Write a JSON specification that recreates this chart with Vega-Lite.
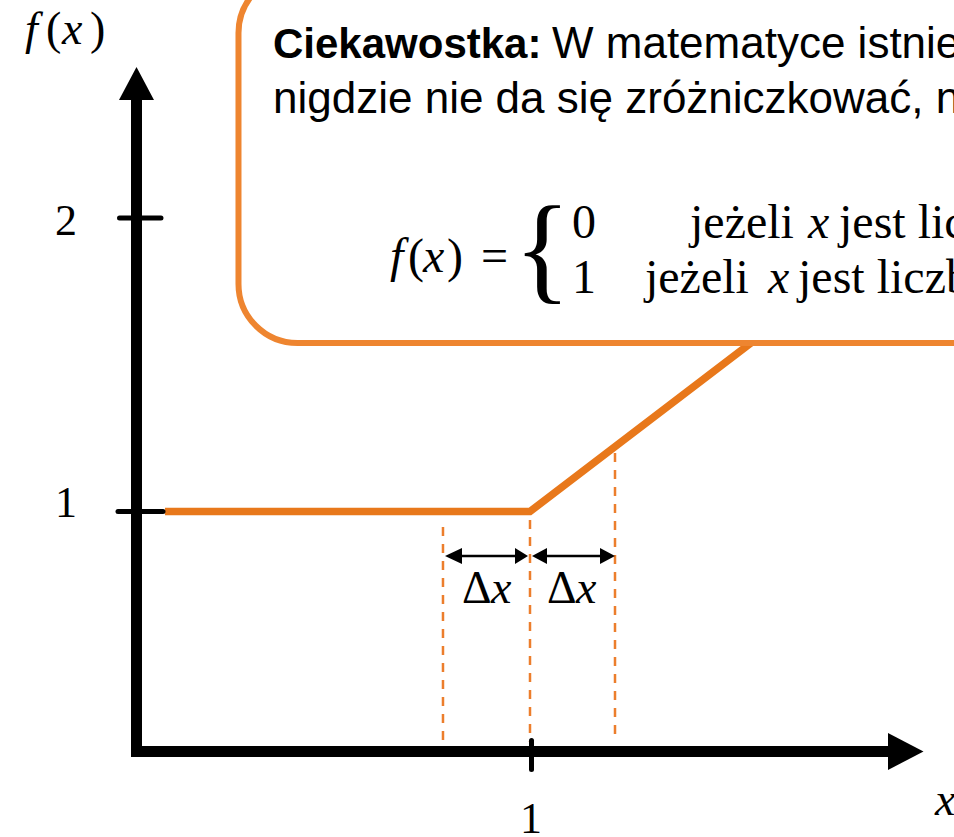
{
  "$schema": "https://vega.github.io/schema/vega-lite/v6.json",
  "width": 954,
  "height": 837,
  "autosize": {"type": "none"},
  "padding": 0,
  "background": "white",
  "config": {"view": {"stroke": null}},
  "datasets": {
    "curve": [{"x": 0.0722, "y": 1}, {"x": 0.9962, "y": 1}, {"x": 1.6317, "y": 1.6525}],
    "box": [{"x": 0.2582, "x2": 2.4392, "y": 2.8314, "y2": 1.5741}],
    "dashed": [
      {"x": 0.7759, "y": 0.9472, "y2": 0.2147},
      {"x": 0.9962, "y": 0.971, "y2": 0.2147},
      {"x": 1.2114, "y": 1.1993, "y2": 0.2147}
    ],
    "axes": [
      {"x": 0, "x2": 0, "y": 0.1823, "y2": 2.41},
      {"x": 0, "x2": 1.9025, "y": 0.1823, "y2": 0.1823}
    ],
    "ticks": [
      {"x": -0.0468, "x2": 0.0671, "y": 1, "y2": 1},
      {"x": -0.043, "x2": 0.062, "y": 2, "y2": 2},
      {"x": 1, "x2": 1, "y": 0.2198, "y2": 0.121}
    ],
    "yArrow": [
      {"x": -0.0443, "y": 2.402, "y2": 2.402},
      {"x": 0, "y": 2.5145, "y2": 2.402},
      {"x": 0.0443, "y": 2.402, "y2": 2.402}
    ],
    "xArrow": [
      {"y": 0.2453, "x": 1.9025, "x2": 1.9025},
      {"y": 0.1823, "x": 1.9924, "x2": 1.9025},
      {"y": 0.1193, "x": 1.9025, "x2": 1.9025}
    ],
    "smallHeads": [
      {"id": "a", "y": 0.8756, "x": 0.8241, "x2": 0.8241},
      {"id": "a", "y": 0.8484, "x": 0.781, "x2": 0.8241},
      {"id": "a", "y": 0.8211, "x": 0.8241, "x2": 0.8241},
      {"id": "b", "y": 0.8756, "x": 0.9582, "x2": 0.9582},
      {"id": "b", "y": 0.8484, "x": 0.9911, "x2": 0.9582},
      {"id": "b", "y": 0.8211, "x": 0.9582, "x2": 0.9582},
      {"id": "c", "y": 0.8756, "x": 1.0392, "x2": 1.0392},
      {"id": "c", "y": 0.8484, "x": 1.0013, "x2": 1.0392},
      {"id": "c", "y": 0.8211, "x": 1.0392, "x2": 1.0392},
      {"id": "d", "y": 0.8756, "x": 1.1734, "x2": 1.1734},
      {"id": "d", "y": 0.8484, "x": 1.2114, "x2": 1.1734},
      {"id": "d", "y": 0.8211, "x": 1.1734, "x2": 1.1734}
    ],
    "shafts": [
      {"x": 0.8, "x2": 0.97, "y": 0.8484, "y2": 0.8484},
      {"x": 1.02, "x2": 1.19, "y": 0.8484, "y2": 0.8484}
    ],
    "sansBold": [{"x": 0.3456, "y": 2.5451, "t": "Ciekawostka:"}],
    "sansReg": [
      {"x": 1.0519, "y": 2.5451, "t": "W matematyce istnieją funkcje, których"},
      {"x": 0.3456, "y": 2.3578, "t": "nigdzie nie da się zróżniczkować, np. funkcja Dirichleta:"}
    ],
    "formulaReg": [
      {"x": 0.6873, "y": 1.816, "t": "("},
      {"x": 0.7861, "y": 1.816, "t": ")"},
      {"x": 0.8722, "y": 1.816, "t": "="},
      {"x": 1.1025, "y": 1.9319, "t": "0"},
      {"x": 1.1025, "y": 1.7445, "t": "1"},
      {"x": 1.4013, "y": 1.9319, "t": "jeżeli"},
      {"x": 1.7785, "y": 1.9319, "t": "jest liczbą niewymierną"},
      {"x": 1.2873, "y": 1.7445, "t": "jeżeli"},
      {"x": 1.6747, "y": 1.7445, "t": "jest liczbą wymierną"}
    ],
    "formulaIt": [
      {"x": 0.6418, "y": 1.816, "t": "f"},
      {"x": 0.7253, "y": 1.816, "t": "x"},
      {"x": 1.7, "y": 1.9319, "t": "x"},
      {"x": 1.5987, "y": 1.7445, "t": "x"}
    ],
    "brace": [{"x": 0.9557, "y": 1.8808, "t": "{"}],
    "fxReg": [
      {"x": -0.2291, "y": 2.5928, "t": "("},
      {"x": -0.1177, "y": 2.5928, "t": ")"}
    ],
    "fxIt": [
      {"x": -0.2823, "y": 2.5928, "t": "f"},
      {"x": -0.1886, "y": 2.5928, "t": "x"}
    ],
    "tickLabels": [
      {"x": -0.1785, "y": 1.9421, "t": "2"},
      {"x": -0.1785, "y": 0.9813, "t": "1"},
      {"x": 0.9987, "y": -0.0954, "t": "1"}
    ],
    "smallIt": [
      {"x": 2.0215, "y": -0.0341, "t": "x"},
      {"x": 0.8975, "y": 0.6883, "t": "x"},
      {"x": 1.1127, "y": 0.6883, "t": "x"}
    ],
    "smallReg": [
      {"x": 0.8241, "y": 0.6883, "t": "Δ"},
      {"x": 1.0392, "y": 0.6883, "t": "Δ"}
    ]
  },
  "encoding": {
    "x": {"field": "x", "type": "quantitative", "scale": {"domain": [-0.34557, 2.06962], "nice": false, "zero": false}, "axis": null},
    "y": {"field": "y", "type": "quantitative", "scale": {"domain": [-0.10903, 2.74276], "nice": false, "zero": false}, "axis": null}
  },
  "layer": [
    {
      "data": {"name": "curve"},
      "mark": {"type": "line", "color": "#E8781B", "strokeWidth": 7.5, "strokeCap": "butt", "strokeJoin": "miter"},
      "encoding": {}
    },
    {
      "data": {"name": "box"},
      "mark": {"type": "rect", "fill": "white", "stroke": "#EE8530", "strokeWidth": 6, "cornerRadius": 59},
      "encoding": {"x2": {"field": "x2"}, "y2": {"field": "y2"}}
    },
    {
      "data": {"name": "dashed"},
      "mark": {"type": "rule", "color": "#EC7E2C", "strokeWidth": 2.5, "strokeDash": [9, 8]},
      "encoding": {"y2": {"field": "y2"}}
    },
    {
      "data": {"name": "axes"},
      "mark": {"type": "rule", "color": "black", "strokeWidth": 11, "strokeCap": "square"},
      "encoding": {"x2": {"field": "x2"}, "y2": {"field": "y2"}}
    },
    {
      "data": {"name": "ticks"},
      "mark": {"type": "rule", "color": "black", "strokeWidth": 5, "strokeCap": "round"},
      "encoding": {"x2": {"field": "x2"}, "y2": {"field": "y2"}}
    },
    {
      "data": {"name": "yArrow"},
      "mark": {"type": "area", "color": "black", "orient": "vertical", "opacity": 1},
      "encoding": {"y2": {"field": "y2"}}
    },
    {
      "data": {"name": "xArrow"},
      "mark": {"type": "area", "color": "black", "orient": "horizontal", "opacity": 1},
      "encoding": {"x2": {"field": "x2"}}
    },
    {
      "data": {"name": "smallHeads"},
      "mark": {"type": "area", "color": "black", "orient": "horizontal", "opacity": 1},
      "encoding": {"x2": {"field": "x2"}, "detail": {"field": "id", "type": "nominal"}}
    },
    {
      "data": {"name": "shafts"},
      "mark": {"type": "rule", "color": "black", "strokeWidth": 2.5},
      "encoding": {"x2": {"field": "x2"}, "y2": {"field": "y2"}}
    },
    {
      "data": {"name": "sansBold"},
      "mark": {"type": "text", "font": "Liberation Sans", "fontWeight": "bold", "fontSize": 42, "align": "left", "baseline": "alphabetic", "color": "black"},
      "encoding": {"text": {"field": "t"}}
    },
    {
      "data": {"name": "sansReg"},
      "mark": {"type": "text", "font": "Liberation Sans", "fontSize": 44, "align": "left", "baseline": "alphabetic", "color": "black"},
      "encoding": {"text": {"field": "t"}}
    },
    {
      "data": {"name": "formulaReg"},
      "mark": {"type": "text", "font": "Liberation Serif", "fontSize": 48, "align": "left", "baseline": "alphabetic", "color": "black"},
      "encoding": {"text": {"field": "t"}}
    },
    {
      "data": {"name": "formulaIt"},
      "mark": {"type": "text", "font": "Liberation Serif", "fontStyle": "italic", "fontSize": 48, "align": "left", "baseline": "alphabetic", "color": "black"},
      "encoding": {"text": {"field": "t"}}
    },
    {
      "data": {"name": "brace"},
      "mark": {"type": "text", "font": "Liberation Serif", "fontSize": 118, "align": "left", "baseline": "middle", "color": "black"},
      "encoding": {"text": {"field": "t"}}
    },
    {
      "data": {"name": "fxReg"},
      "mark": {"type": "text", "font": "Liberation Serif", "fontSize": 46, "align": "left", "baseline": "alphabetic", "color": "black"},
      "encoding": {"text": {"field": "t"}}
    },
    {
      "data": {"name": "fxIt"},
      "mark": {"type": "text", "font": "Liberation Serif", "fontStyle": "italic", "fontSize": 46, "align": "left", "baseline": "alphabetic", "color": "black"},
      "encoding": {"text": {"field": "t"}}
    },
    {
      "data": {"name": "tickLabels"},
      "mark": {"type": "text", "font": "Liberation Serif", "fontSize": 44, "align": "center", "baseline": "alphabetic", "color": "black"},
      "encoding": {"text": {"field": "t"}}
    },
    {
      "data": {"name": "smallIt"},
      "mark": {"type": "text", "font": "Liberation Serif", "fontStyle": "italic", "fontSize": 46, "align": "left", "baseline": "alphabetic", "color": "black"},
      "encoding": {"text": {"field": "t"}}
    },
    {
      "data": {"name": "smallReg"},
      "mark": {"type": "text", "font": "Liberation Serif", "fontSize": 46, "align": "left", "baseline": "alphabetic", "color": "black"},
      "encoding": {"text": {"field": "t"}}
    }
  ]
}
